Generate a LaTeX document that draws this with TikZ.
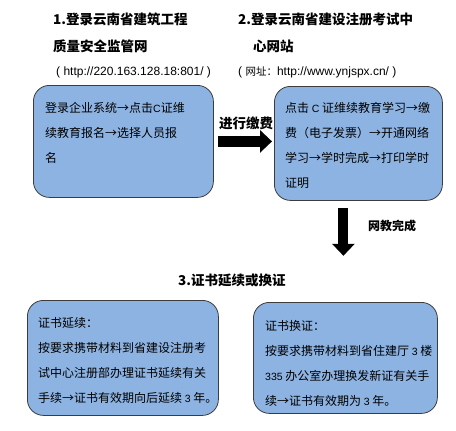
\documentclass[tikz,border=0pt]{standalone}
\usepackage{fontspec}
\setmainfont{Noto Sans CJK SC}
\newfontfamily\latfont{Liberation Sans}
\usetikzlibrary{arrows.meta,calc}

\definecolor{boxblue}{RGB}{141,179,226}
\definecolor{boxline}{RGB}{60,60,60}
\newcommand\ltn[1]{{\latfont\fontsize{10.5}{25}\selectfont #1}}

\tikzset{
  head/.style={anchor=north west,inner sep=0pt,align=left,font=\fontsize{13.5}{27}\selectfont\bfseries},
  link/.style={anchor=west,inner sep=0pt,font=\latfont\fontsize{12}{14}\selectfont},
  stepbox/.style={draw=boxline,fill=boxblue,line width=0.8pt,rounded corners=16pt,anchor=north west,inner sep=0pt},
  body/.style={anchor=north west,inner sep=0pt,align=left,font=\fontsize{12}{25}\selectfont},
  fat/.style={line width=#1,-{Triangle[length=12pt,width=22pt]}},
}

\begin{document}
\begin{tikzpicture}[x=1pt,y=-1pt]
  \useasboundingbox (0,0) rectangle (456,431);

  % step 1
  \node (t1) [head] at (53,12.9) {1.登录云南省建筑工程\\质量安全监管网};
  \node (u1) [link] at (56,72) {( http://220.163.128.18:801/ )};
  \node (login) [stepbox,minimum width=180pt,minimum height=112pt] at (33,85) {};
  \node (logintxt) [body] at (45,102.6) {登录企业系统→点击\ltn{C}证维\\续教育报名→选择人员报\\名};

  % step 2
  \node (t2) [head] at (238,12.9) {2.登录云南省建设注册考试中\\\hspace*{15pt}心网站};
  \node (u2) [link] at (238,72) {( {\rmfamily\fontsize{10.5}{14}\selectfont 网址：}http://www.ynjspx.cn/ )};
  \node (study) [stepbox,minimum width=168pt,minimum height=114pt] at (274,86) {};
  \node (studytxt) [body] at (285,102.6) {点击 \ltn{C} 证维续教育学习→缴\\费（电子发票）→开通网络\\学习→学时完成→打印学时\\证明};

  % arrows
  \coordinate (paytail) at ($(login.east)+(4,0)$);
  \coordinate (payhead) at ($(paytail -| study.west)+(-2,0)$);
  \draw[fat=11pt] (paytail) -- (payhead);
  \node (paylbl) [head,anchor=west] at (219,123) {进行缴费};

  \coordinate (donetail) at ($(study.south)+(-15,7)$);
  \coordinate (donehead) at ($(donetail)+(0,48)$);
  \draw[fat=10pt] (donetail) -- (donehead);
  \node (donelbl) [head,anchor=west,font=\fontsize{12}{14}\selectfont\bfseries] at (368,226) {网教完成};

  % step 3
  \node (t3) [head,anchor=west] at (178,280) {3.证书延续或换证};
  \node (renew) [stepbox,minimum width=191pt,minimum height=115pt] at (27,300) {};
  \node (renewtxt) [body] at (38,317.6) {证书延续：\\按要求携带材料到省建设注册考\\试中心注册部办理证书延续有关\\手续→证书有效期向后延续 \ltn{3} 年。};
  \node (swap) [stepbox,minimum width=184pt,minimum height=111pt] at (253,302) {};
  \node (swaptxt) [body] at (265,320.6) {证书换证：\\按要求携带材料到省住建厅 \ltn{3} 楼\\\ltn{335} 办公室办理换发新证有关手\\续→证书有效期为 \ltn{3} 年。};

\end{tikzpicture}
\end{document}
